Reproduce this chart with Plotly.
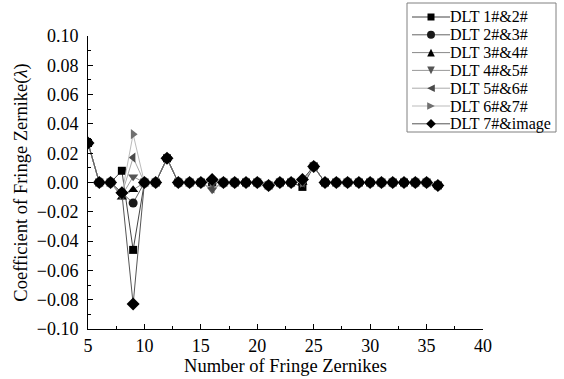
import plotly.graph_objects as go

x_vals = list(range(5, 37))

series_names = ["DLT 1#&2#", "DLT 2#&3#", "DLT 3#&4#", "DLT 4#&5#",
                "DLT 5#&6#", "DLT 6#&7#", "DLT 7#&image"]

def base():
    # values for x = 5..36
    return [0.027, 0.0, 0.0, -0.008, 0.0, 0.0, 0.0, 0.0165, 0.0, 0.0,
            0.0, 0.0, 0.0, 0.0, 0.0, 0.0, -0.002, 0.0, 0.0, 0.0,
            0.011, 0.0, 0.0, 0.0, 0.0, 0.0, 0.0, 0.0, 0.0, 0.0,
            0.0, -0.002]

s1 = base(); s1[3] = 0.008;  s1[4] = -0.046; s1[19] = -0.003
s2 = base(); s2[3] = -0.007; s2[4] = -0.014
s3 = base(); s3[3] = -0.010; s3[4] = -0.005; s3[11] = 0.002
s4 = base(); s4[3] = -0.009; s4[4] = 0.004;  s4[11] = -0.005
s5 = base(); s5[3] = -0.008; s5[4] = 0.017;  s5[11] = -0.004
s6 = base(); s6[3] = -0.008; s6[4] = 0.033
s7 = base(); s7[3] = -0.007; s7[4] = -0.083; s7[11] = 0.002; s7[19] = 0.002

series_values = [s1, s2, s3, s4, s5, s6, s7]
symbols = ["square", "circle", "triangle-up", "triangle-down",
           "triangle-left", "triangle-right", "diamond"]
marker_colors = ["#000000", "#1a1a1a", "#000000", "#555555",
                 "#4a4a4a", "#707070", "#000000"]
line_colors = ["#444444", "#666666", "#888888", "#999999",
               "#aaaaaa", "#bbbbbb", "#555555"]
sizes = [8, 9, 9, 9, 9, 9, 10]

W, H = 564, 379
ML, MR, MT, MB = 88, 81, 36, 50
PW, PH = W - ML - MR, H - MT - MB

def px_x(px):
    return (px - ML) / PW

def px_y(py):
    return (H - MB - py) / PH

fig = go.Figure()
for name, ys, sym, mc, lc, sz in zip(series_names, series_values, symbols,
                                     marker_colors, line_colors, sizes):
    fig.add_trace(go.Scatter(
        x=x_vals, y=ys, mode="lines+markers", name=name,
        line=dict(color=lc, width=1),
        marker=dict(symbol=sym, color=mc, size=sz, line=dict(width=0)),
        showlegend=False,
    ))

# ---- hand-made legend (compact row spacing like the original) ----
shapes = []
annotations = []
box_l, box_r, box_t, box_b = 407, 556, 3, 132
shapes.append(dict(type="rect", xref="paper", yref="paper",
                   x0=px_x(box_l), x1=px_x(box_r),
                   y0=px_y(box_b), y1=px_y(box_t),
                   line=dict(color="#808080", width=1), fillcolor="white",
                   layer="above"))
row0, row_gap = 17, 17.8
h = 3.8
paths = {
    "triangle-up": f"M {-h},{-h} L {h},{-h} L 0,{h} Z",
    "triangle-down": f"M {-h},{h} L {h},{h} L 0,{-h} Z",
    "triangle-left": f"M {h},{h} L {h},{-h} L {-h},0 Z",
    "triangle-right": f"M {-h},{h} L {-h},{-h} L {h},0 Z",
    "diamond": f"M 0,{h+1} L {h+1},0 L 0,{-h-1} L {-h-1},0 Z",
}
for i, (name, sym, mc, lc) in enumerate(zip(series_names, symbols,
                                             marker_colors, line_colors)):
    py = row0 + i * row_gap
    yp = px_y(py)
    shapes.append(dict(type="line", xref="paper", yref="paper",
                       x0=px_x(412), x1=px_x(450), y0=yp, y1=yp,
                       line=dict(color=lc, width=1), layer="above"))
    common = dict(xref="paper", yref="paper", xsizemode="pixel",
                  ysizemode="pixel", xanchor=px_x(431), yanchor=yp,
                  fillcolor=mc, line=dict(width=0), layer="above")
    if sym == "square":
        shapes.append(dict(type="rect", x0=-3.5, x1=3.5, y0=-3.5, y1=3.5,
                           **common))
    elif sym == "circle":
        shapes.append(dict(type="circle", x0=-4, x1=4, y0=-4, y1=4,
                           **common))
    else:
        shapes.append(dict(type="path", path=paths[sym], **common))
    annotations.append(dict(xref="paper", yref="paper", x=px_x(449), y=yp,
                            xanchor="left", yanchor="middle", text=name,
                            showarrow=False, borderpad=0,
                            font=dict(size=16, color="#000000")))

font_family = "'Liberation Serif', 'Times New Roman', Times, serif"
fig.update_layout(
    width=W, height=H,
    margin=dict(l=ML, r=MR, t=MT, b=MB, autoexpand=False),
    paper_bgcolor="white", plot_bgcolor="white",
    font=dict(family=font_family, size=18, color="#000000"),
    showlegend=False,
    shapes=shapes,
    annotations=annotations,
    xaxis=dict(
        range=[5, 40], tickvals=[5, 10, 15, 20, 25, 30, 35, 40],
        ticks="inside", ticklen=5, tickcolor="#000000", showgrid=False,
        zeroline=False, showline=True, linecolor="#000000", linewidth=1,
        minor=dict(ticks="inside", ticklen=3, dtick=2.5, tick0=5,
                   tickcolor="#000000", showgrid=False),
        title=dict(text="Number of Fringe Zernikes",
                   font=dict(size=18.5), standoff=0),
        tickfont=dict(size=18),
    ),
    yaxis=dict(
        range=[-0.1, 0.1], dtick=0.02, tick0=0, tickformat=".2f",
        ticks="inside", ticklen=5, tickcolor="#000000", showgrid=False,
        zeroline=False, showline=True, linecolor="#000000", linewidth=1,
        ticklabelstandoff=5,
        minor=dict(ticks="inside", ticklen=3, dtick=0.01,
                   tickcolor="#000000", showgrid=False),
        title=dict(text="Coefficient of Fringe Zernike(<i>λ</i>)",
                   font=dict(size=18.5), standoff=4),
        tickfont=dict(size=18),
    ),
)

fig.write_html("out.html")
